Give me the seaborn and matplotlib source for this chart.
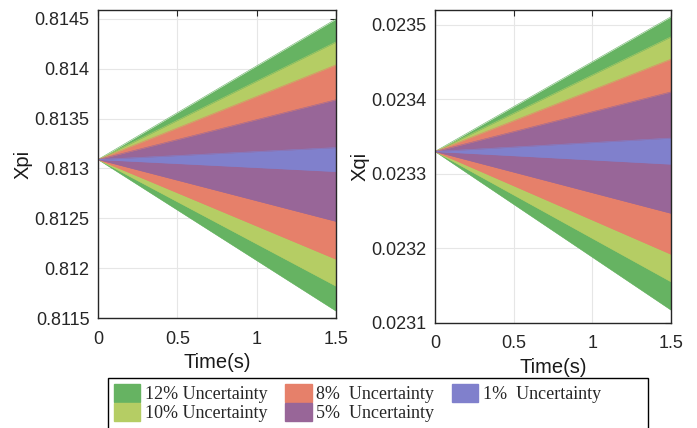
"""Uncertainty fan of Xpi / Xqi over time — two panels, shared legend."""
import matplotlib
matplotlib.use("Agg")
import matplotlib.pyplot as plt
import seaborn as sns
from matplotlib.patches import Patch, Rectangle

TIME = [0.0, 1.5]
LABELS = ["12% Uncertainty", "10% Uncertainty", "8%  Uncertainty",
          "5%  Uncertainty", "1%  Uncertainty"]
COLORS = ["#66B362", "#B5CD64", "#E6806A", "#986698", "#8080CC"]

# left panel (Xpi): start value and band edges at t = 1.5
XPI_START = 0.81309
XPI_UPPER = [0.81450, 0.81427, 0.81404, 0.81369, 0.81321]
XPI_LOWER = [0.81157, 0.81182, 0.81209, 0.81247, 0.81297]
XPI_TICKS = [0.8115, 0.812, 0.8125, 0.813, 0.8135, 0.814, 0.8145]

# right panel (Xqi)
XQI_START = 0.02333
XQI_UPPER = [0.023511, 0.023484, 0.023454, 0.023410, 0.023348]
XQI_LOWER = [0.023117, 0.023155, 0.023192, 0.023247, 0.023313]
XQI_TICKS = [0.0231, 0.0232, 0.0233, 0.0234, 0.0235]

X_TICKS = [0, 0.5, 1, 1.5]

W, H = 697, 428


def fmt(v):
    return f"{v:.4f}".rstrip("0").rstrip(".")


def draw_panel(ax, start, upper, lower, ticks, ylim, ylabel):
    for up, lo, col in zip(upper, lower, COLORS):
        top = [start, up]
        bot = [start, lo]
        ax.fill_between(TIME, bot, top, color=col, linewidth=0, zorder=2)
        sns.lineplot(x=TIME, y=top, ax=ax, color=col, linewidth=0.4, zorder=2)
        sns.lineplot(x=TIME, y=bot, ax=ax, color=col, linewidth=0.4, zorder=2)
    ax.set_xlim(0, 1.5)
    ax.set_ylim(*ylim)
    ax.set_xticks(X_TICKS)
    ax.set_xticklabels([fmt(t) for t in X_TICKS])
    ax.set_yticks(ticks)
    ax.set_yticklabels([fmt(t) for t in ticks])
    ax.grid(True, color="#e6e6e6", linewidth=0.8, zorder=0)
    ax.set_axisbelow(True)
    ax.tick_params(direction="in", top=True, right=True, labelsize=13,
                   length=4, width=0.8, colors="#262626")
    ax.tick_params(axis="x", pad=9)
    ax.tick_params(axis="y", pad=6)
    for sp in ax.spines.values():
        sp.set_visible(True)
        sp.set_color("#262626")
        sp.set_linewidth(1.0)
    ax.set_xlabel("Time(s)", fontsize=14.5, color="#1a1a1a", labelpad=4)
    ax.set_ylabel(ylabel, fontsize=14.5, color="#1a1a1a", labelpad=1.5)


def main():
    sns.set_theme(style="white")
    plt.rcParams["font.family"] = ["Liberation Sans", "DejaVu Sans"]

    fig = plt.figure(figsize=(W / 100, H / 100), dpi=100)
    ax1 = fig.add_axes([0.1406, 0.257, 0.3415, 0.7196])
    ax2 = fig.add_axes([0.6241, 0.246, 0.3386, 0.7306])

    draw_panel(ax1, XPI_START, XPI_UPPER, XPI_LOWER, XPI_TICKS,
               (0.8115, 0.81459), "Xpi")
    draw_panel(ax2, XQI_START, XQI_UPPER, XQI_LOWER, XQI_TICKS,
               (0.0231, 0.02352), "Xqi")

    handles = [Patch(facecolor=c, edgecolor=c, label=l) for c, l in zip(COLORS, LABELS)]
    fig.legend(handles=handles, loc="upper left", ncol=3,
               bbox_to_anchor=(114 / W, 1 - 384 / H), frameon=False,
               prop={"family": "Liberation Serif", "size": 13},
               handlelength=1.45, handleheight=1.15, handletextpad=0.25,
               columnspacing=1.0, labelspacing=0.0, borderpad=0.0,
               borderaxespad=0)
    # MATLAB-style legend box, wider than its entries
    fig.patches.append(Rectangle((108 / W, -0.01), 540 / W, 1 - 378 / H + 0.01,
                                 transform=fig.transFigure, fill=False,
                                 edgecolor="black", linewidth=1.0))

    fig.savefig("out.png", dpi=100)
    plt.close(fig)


if __name__ == "__main__":
    main()
